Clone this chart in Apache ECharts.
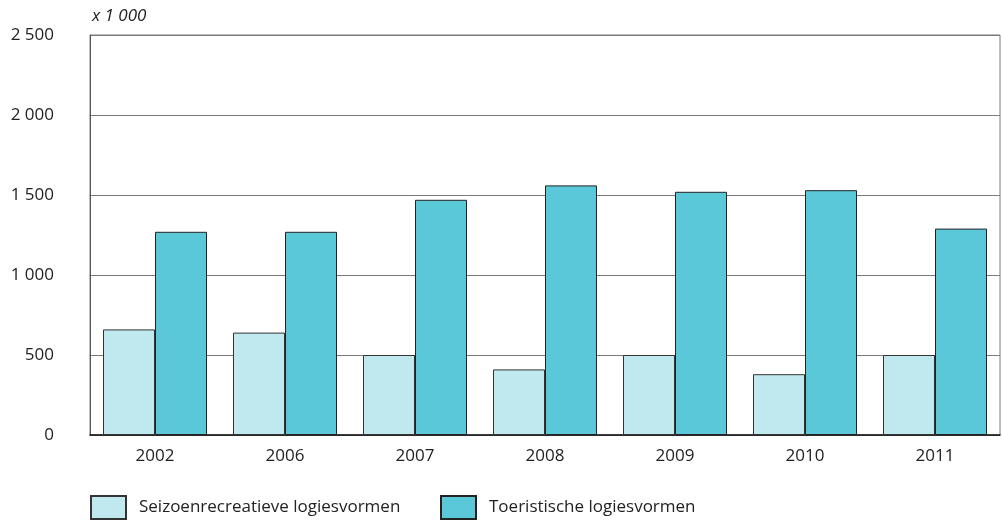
<!DOCTYPE html>
<html>
<head>
<meta charset="utf-8">
<script src="https://cdn.jsdelivr.net/npm/echarts@6/dist/echarts.min.js"></script>
<style>html,body{margin:0;padding:0;background:#fff}#c{width:1002px;height:523px}</style>
</head>
<body>
<div id="c"></div>
<script>
const categories = ['2002','2006','2007','2008','2009','2010','2011'];
const seizoen = [660, 640, 500, 410, 500, 380, 500];
const toeristisch = [1270, 1270, 1470, 1560, 1520, 1530, 1290];
const seriesNames = ['Seizoenrecreatieve logiesvormen', 'Toeristische logiesvormen'];
const unitLabel = 'x 1 000';

const font = 'Open Sans, Noto Sans, sans-serif';
const fs = 17;
const chart = echarts.init(document.getElementById('c'));
const fmt = v => String(v).replace(/\B(?=(\d{3})+(?!\d))/g, ' ');
chart.setOption({
  animation: false,
  textStyle: { fontFamily: font },
  grid: { left: 90, right: 2, top: 35, bottom: 88, show: true, borderColor: '#7a7a7a', borderWidth: 1, containLabel: false },
  legend: [
    { data: [{ name: seriesNames[0], icon: 'rect' }], left: 90, top: 495, padding: 0, itemWidth: 35, itemHeight: 23, itemGap: 0,
      textStyle: { fontSize: fs, color: '#222', fontFamily: font, padding: [0,0,0,8] } },
    { data: [{ name: seriesNames[1], icon: 'rect' }], left: 440, top: 495, padding: 0, itemWidth: 35, itemHeight: 23, itemGap: 0,
      textStyle: { fontSize: fs, color: '#222', fontFamily: font, padding: [0,0,0,8] } }
  ],
  xAxis: {
    type: 'category', data: categories,
    axisLine: { lineStyle: { color: '#111', width: 1.5 } },
    axisTick: { show: false },
    axisLabel: { fontSize: fs, color: '#222', margin: 13, fontFamily: font }
  },
  yAxis: {
    type: 'value', min: 0, max: 2500, interval: 500,
    name: unitLabel, nameLocation: 'end', nameGap: 10,
    nameTextStyle: { fontSize: fs, fontStyle: 'italic', color: '#222', align: 'left', padding: [0,0,0,2], fontFamily: font },
    axisLine: { show: true, lineStyle: { color: '#555' } },
    axisTick: { show: false },
    splitLine: { lineStyle: { color: '#7a7a7a', width: 1.2 } },
    axisLabel: { fontSize: fs, color: '#222', margin: 36, formatter: fmt, padding: [0,0,6,0], fontFamily: font }
  },
  series: [
    { name: seriesNames[0], type: 'bar', data: seizoen, barGap: '0%', barCategoryGap: '20%',
      itemStyle: { color: '#c0e9ef', borderColor: '#333', borderWidth: 1 } },
    { name: seriesNames[1], type: 'bar', data: toeristisch, barGap: '0%', barCategoryGap: '20%',
      itemStyle: { color: '#5bc8d9', borderColor: '#222', borderWidth: 1 } }
  ]
});
</script>
</body>
</html>
